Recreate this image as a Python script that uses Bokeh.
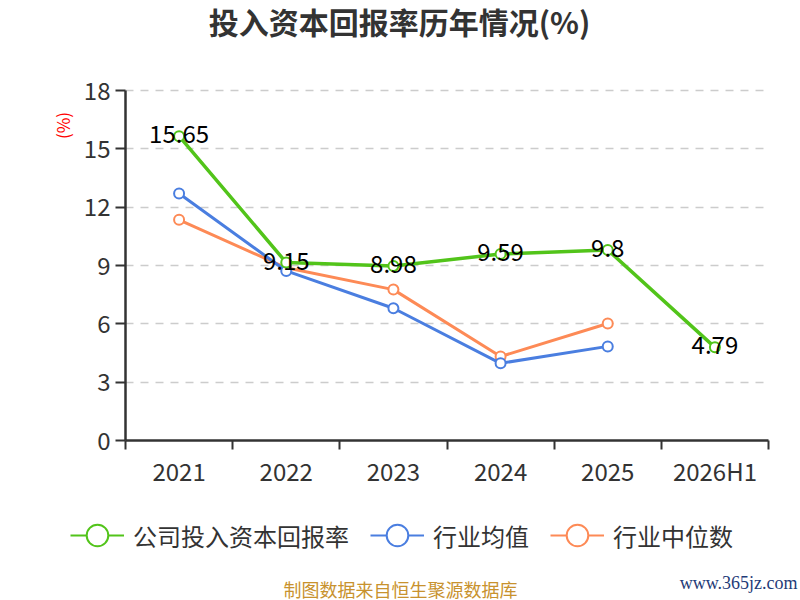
from bokeh.plotting import figure
from bokeh.models import Range1d, FixedTicker, Label, Legend, LegendItem, ColumnDataSource
from bokeh.embed import file_html
from bokeh.resources import INLINE
from bokeh.core.properties import value
import math

years = ["2021", "2022", "2023", "2024", "2025", "2026H1"]
company = [15.65, 9.15, 8.98, 9.59, 9.8, 4.79]
industry_avg = [12.7, 8.72, 6.8, 3.97, 4.84]
industry_median = [11.35, 8.88, 7.76, 4.32, 6.02]
y_ticks = [0, 3, 6, 9, 12, 15, 18]

FONT = "Noto Sans CJK SC"
GREEN = "#52c41a"
BLUE = "#4a7ee0"
ORANGE = "#fd8a56"
AXIS = "#333333"

W, H = 800, 600
# plot area in canvas pixels
AX_L, AX_R, AX_T, AX_B = 125, 768, 90, 440
n = len(years)
Y_MIN, Y_MAX = y_ticks[0], y_ticks[-1]
px_x = (AX_R - AX_L) / n
px_y = (AX_B - AX_T) / (Y_MAX - Y_MIN)
x_range = Range1d(-AX_L / px_x, n + (W - AX_R) / px_x)
y_range = Range1d(Y_MIN - (H - AX_B) / px_y, Y_MAX + AX_T / px_y)

xs = [i + 0.5 for i in range(n)]

p = figure(width=W, height=H, output_backend="svg", toolbar_location=None,
           x_range=x_range, y_range=y_range)
p.min_border = 0
p.min_border_left = 0
p.min_border_right = 0
p.min_border_top = 0
p.min_border_bottom = 0
p.outline_line_color = None
p.background_fill_color = "white"
p.border_fill_color = "white"

# axes (placed at data locations inside the canvas)
p.xaxis.fixed_location = Y_MIN
p.xaxis.bounds = (0, n)
p.xaxis.ticker = FixedTicker(ticks=xs, minor_ticks=list(range(n + 1)))
p.xaxis.major_label_overrides = {x: y for x, y in zip(xs, years)}
p.xaxis.major_tick_line_color = None
p.xaxis.major_tick_out = 9
p.xaxis.minor_tick_out = 9
p.xaxis.minor_tick_in = 0
p.xaxis.minor_tick_line_color = AXIS
p.xaxis.minor_tick_line_width = 2
p.xaxis.axis_line_color = AXIS
p.xaxis.axis_line_width = 2.5
p.xaxis.major_label_text_font = FONT
p.xaxis.major_label_text_font_size = "24px"
p.xaxis.major_label_text_color = AXIS
p.xaxis.major_label_standoff = 3

p.yaxis.fixed_location = 0
p.yaxis.bounds = (Y_MIN, Y_MAX)
p.yaxis.ticker = FixedTicker(ticks=y_ticks, minor_ticks=[])
p.yaxis.major_tick_out = 10
p.yaxis.major_tick_in = 0
p.yaxis.major_tick_line_color = AXIS
p.yaxis.major_tick_line_width = 2
p.yaxis.axis_line_color = AXIS
p.yaxis.axis_line_width = 2.5
p.yaxis.major_label_text_font = FONT
p.yaxis.major_label_text_font_size = "24px"
p.yaxis.major_label_text_color = AXIS
p.yaxis.major_label_standoff = 5

p.xgrid.grid_line_color = None
p.ygrid.ticker = FixedTicker(ticks=y_ticks[1:])
p.ygrid.cross_bounds = (0, n)
p.ygrid.grid_line_color = "#cccccc"
p.ygrid.grid_line_dash = "8 7"
p.ygrid.grid_line_width = 1.5

# data
src_c = ColumnDataSource(dict(x=xs, y=company, t=[str(v) for v in company]))
src_a = ColumnDataSource(dict(x=xs[:len(industry_avg)], y=industry_avg))
src_m = ColumnDataSource(dict(x=xs[:len(industry_median)], y=industry_median))

p.line("x", "y", source=src_m, line_color=ORANGE, line_width=3)
p.scatter("x", "y", source=src_m, size=10, fill_color="white", line_color=ORANGE, line_width=2)
p.line("x", "y", source=src_a, line_color=BLUE, line_width=3)
p.scatter("x", "y", source=src_a, size=10, fill_color="white", line_color=BLUE, line_width=2)
p.line("x", "y", source=src_c, line_color=GREEN, line_width=3.5)
p.scatter("x", "y", source=src_c, size=10, fill_color="white", line_color=GREEN, line_width=2)
p.text("x", "y", text="t", source=src_c, text_font=value(FONT), text_font_size="24px",
       text_color="black", text_align="center", text_baseline="middle", y_offset=-2)

# legend (proxy renderers hold no visible point, only the legend styling)
legend_items = []
nan = float("nan")
for name, col in [("公司投入资本回报率", GREEN), ("行业均值", BLUE), ("行业中位数", ORANGE)]:
    r1 = p.line([nan, nan], [nan, nan], line_color=col, line_width=2)
    r2 = p.scatter([nan], [nan], size=23, fill_color="white", line_color=col, line_width=2)
    legend_items.append(LegendItem(label=name, renderers=[r1, r2]))
LEG_GH = 58
legend = Legend(items=legend_items, orientation="horizontal",
                location=(70, H - 530 - LEG_GH / 2 - 5),
                glyph_width=54, glyph_height=LEG_GH, label_standoff=9, spacing=21,
                label_text_font=FONT, label_text_font_size="24px", label_text_color=AXIS,
                border_line_color=None, background_fill_alpha=0, padding=5, margin=0)
p.add_layout(legend, "center")

# texts (screen units: from canvas left / bottom)
p.add_layout(Label(x=399, y=H - 20, x_units="screen", y_units="screen", text="投入资本回报率历年情况(%)",
                   text_font=FONT, text_font_size="30px", text_font_style="bold", text_color=AXIS,
                   text_align="center", text_baseline="middle"))
p.add_layout(Label(x=62, y=H - 125, x_units="screen", y_units="screen", text="(%)", angle=math.pi / 2,
                   text_font=FONT, text_font_size="17px", text_color="red",
                   text_align="center", text_baseline="middle"))
p.add_layout(Label(x=400, y=H - 588, x_units="screen", y_units="screen", text="制图数据来自恒生聚源数据库",
                   text_font=FONT, text_font_size="18px", text_color="#c8922e",
                   text_align="center", text_baseline="middle"))
p.add_layout(Label(x=797, y=H - 582, x_units="screen", y_units="screen", text="www.365jz.com",
                   text_font="Liberation Serif", text_font_size="18px", text_color="#1f3b78",
                   text_align="right", text_baseline="middle"))

open("out.html", "w").write(file_html(p, INLINE))
